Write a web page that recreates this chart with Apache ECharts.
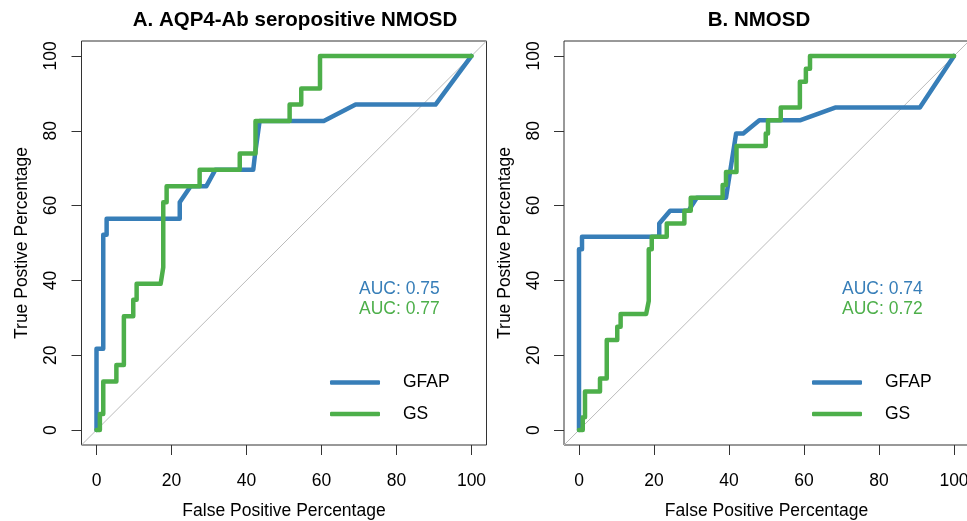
<!DOCTYPE html>
<html><head><meta charset="utf-8">
<script src="https://cdn.jsdelivr.net/npm/echarts@6/dist/echarts.min.js"></script>
<style>html,body{margin:0;padding:0;background:#fff}#c{width:967px;height:521px}</style>
</head><body><div id="c"></div>
<script>
// ---- data ----
const xTicks = [0, 20, 40, 60, 80, 100];
const yTicks = [0, 20, 40, 60, 80, 100];
const seriesNames = ['GFAP', 'GS'];
const panelTitles = ['A. AQP4-Ab seropositive NMOSD', 'B. NMOSD'];
const xAxisTitle = 'False Positive Percentage';
const yAxisTitle = 'True Postive Percentage';
const axisRange = [-4, 104];

// Panel A: AQP4-Ab seropositive NMOSD
const aGfapFpr = [0, 0, 1.8, 1.8, 2.7, 2.7, 22.2, 22.2, 25.1, 29.3, 31.7, 41.8, 42.3, 43.5, 60.6, 69.1, 90.4, 100];
const aGfapTpr = [0, 21.7, 21.7, 52.2, 52.2, 56.5, 56.5, 60.9, 65.2, 65.2, 69.6, 69.6, 73.9, 82.6, 82.6, 87.0, 87.0, 100];
const aGsFpr = [0, 0.9, 0.9, 1.8, 1.8, 5.3, 5.3, 7.3, 7.3, 9.8, 9.8, 10.7, 10.7, 17.1, 17.8, 17.8, 18.7, 18.7, 27.5, 27.5, 38.2, 38.2, 42.4, 42.4, 51.5, 51.5, 54.6, 54.6, 59.6, 59.6, 100];
const aGsTpr = [0, 0, 4.3, 4.3, 13.0, 13.0, 17.4, 17.4, 30.4, 30.4, 34.8, 34.8, 39.1, 39.1, 43.5, 60.9, 60.9, 65.2, 65.2, 69.6, 69.6, 73.9, 73.9, 82.6, 82.6, 87.0, 87.0, 91.3, 91.3, 100, 100];
const aAuc = [0.75, 0.77];

// Panel B: NMOSD
const bGfapFpr = [0, 0, 0.8, 0.8, 21.4, 21.4, 24.3, 29.2, 31.4, 39.2, 41.9, 43.8, 48.1, 58.9, 68.3, 90.9, 100];
const bGfapTpr = [0, 48.3, 48.3, 51.7, 51.7, 55.2, 58.6, 58.6, 62.1, 62.1, 79.3, 79.3, 82.8, 82.8, 86.2, 86.2, 100];
const bGsFpr = [0, 1.0, 1.0, 1.6, 1.6, 5.6, 5.6, 7.4, 7.4, 10.2, 10.2, 11.1, 11.1, 17.9, 18.6, 18.6, 19.4, 19.4, 23.4, 23.4, 28.1, 28.1, 29.8, 29.8, 38.3, 38.3, 39.2, 39.2, 42.0, 42.0, 49.8, 49.8, 50.4, 50.4, 53.8, 53.8, 58.9, 58.9, 60.5, 60.5, 61.6, 61.6, 100];
const bGsTpr = [0, 0, 3.4, 3.4, 10.3, 10.3, 13.8, 13.8, 24.1, 24.1, 27.6, 27.6, 31.0, 31.0, 34.5, 48.3, 48.3, 51.7, 51.7, 55.2, 55.2, 58.6, 58.6, 62.1, 62.1, 65.5, 65.5, 69.0, 69.0, 75.9, 75.9, 79.3, 79.3, 82.8, 82.8, 86.2, 86.2, 93.1, 93.1, 96.6, 96.6, 100, 100];
const bAuc = [0.74, 0.72];

// ---- styling ----
const FONT = '"Liberation Sans", Arial, Helvetica, sans-serif';
const COLORS = ['#377EB8', '#4DAF4A'];
const FS = 17.5;
const LW = 4.5;

const zip = (xs, ys) => xs.map((x, i) => [x, ys[i]]);

const panels = [
  { left: 81.5, titleX: 290, auc: aAuc, legendLeft: 330, aucX: 359, data: [zip(aGfapFpr, aGfapTpr), zip(aGsFpr, aGsTpr)] },
  { left: 564, titleX: 754, auc: bAuc, legendLeft: 812, aucX: 842, data: [zip(bGfapFpr, bGfapTpr), zip(bGsFpr, bGsTpr)] }
];

const option = {
  animation: false,
  backgroundColor: '#fff',
  textStyle: { fontFamily: FONT },
  title: panels.map((p, i) => ({
    text: panelTitles[i], left: p.titleX, top: 5, textAlign: 'center',
    textStyle: { fontSize: 20.5, fontWeight: 'bold', color: '#000', fontFamily: FONT }
  })),
  legend: panels.map((p) => ({
    data: seriesNames, orient: 'vertical', left: p.legendLeft, top: 373.5, padding: 0,
    itemGap: 13.6, itemWidth: 50, itemHeight: LW, icon: 'roundRect', selectedMode: false,
    textStyle: { fontSize: FS, color: '#000', fontFamily: FONT, lineHeight: 18, padding: [0, 0, 0, 18] }
  })),
  grid: panels.map((p) => ({
    left: p.left, top: 41, width: 405, height: 404, show: true,
    containLabel: false, outerBoundsMode: 'none',
    borderColor: '#333', borderWidth: 1, backgroundColor: 'transparent'
  })),
  xAxis: panels.map((p, i) => ({
    type: 'value', gridIndex: i, min: axisRange[0], max: axisRange[1],
    axisLine: { show: false, onZero: false },
    splitLine: { show: false },
    axisTick: { show: true, customValues: xTicks, length: 10, lineStyle: { color: '#333' } },
    axisLabel: { customValues: xTicks, fontSize: FS, color: '#000', margin: 27, fontFamily: FONT },
    name: xAxisTitle, nameLocation: 'middle', nameGap: 57,
    nameTextStyle: { fontSize: FS, color: '#000', fontFamily: FONT }
  })),
  yAxis: panels.map((p, i) => ({
    type: 'value', gridIndex: i, min: axisRange[0], max: axisRange[1],
    axisLine: { show: false, onZero: false },
    splitLine: { show: false },
    axisTick: { show: true, customValues: yTicks, length: 10, lineStyle: { color: '#333' } },
    axisLabel: { customValues: yTicks, fontSize: FS, color: '#000', margin: 21, rotate: 90, fontFamily: FONT },
    name: yAxisTitle, nameLocation: 'middle', nameGap: 50,
    nameTextStyle: { fontSize: FS, color: '#000', fontFamily: FONT }
  })),
  series: [],
  graphic: []
};

panels.forEach((p, i) => {
  option.series.push({
    type: 'line', xAxisIndex: i, yAxisIndex: i, silent: true, symbol: 'none', z: 1,
    data: [[axisRange[0], axisRange[0]], [axisRange[1], axisRange[1]]],
    lineStyle: { color: '#bbbbbb', width: 1 }
  });
  seriesNames.forEach((name, k) => {
    option.series.push({
      name, type: 'line', xAxisIndex: i, yAxisIndex: i, symbol: 'none', z: 2 + k,
      data: p.data[k], color: COLORS[k],
      lineStyle: { color: COLORS[k], width: LW, cap: 'round', join: 'round' }
    });
  });
  p.auc.forEach((v, k) => {
    option.graphic.push({
      type: 'text', x: p.aucX, y: 289 + k * 20,
      style: { text: 'AUC: ' + v.toFixed(2), fill: COLORS[k], fontSize: FS, fontFamily: FONT, verticalAlign: 'middle' }
    });
  });
});

const chart = echarts.init(document.getElementById('c'));
chart.setOption(option);
</script></body></html>
